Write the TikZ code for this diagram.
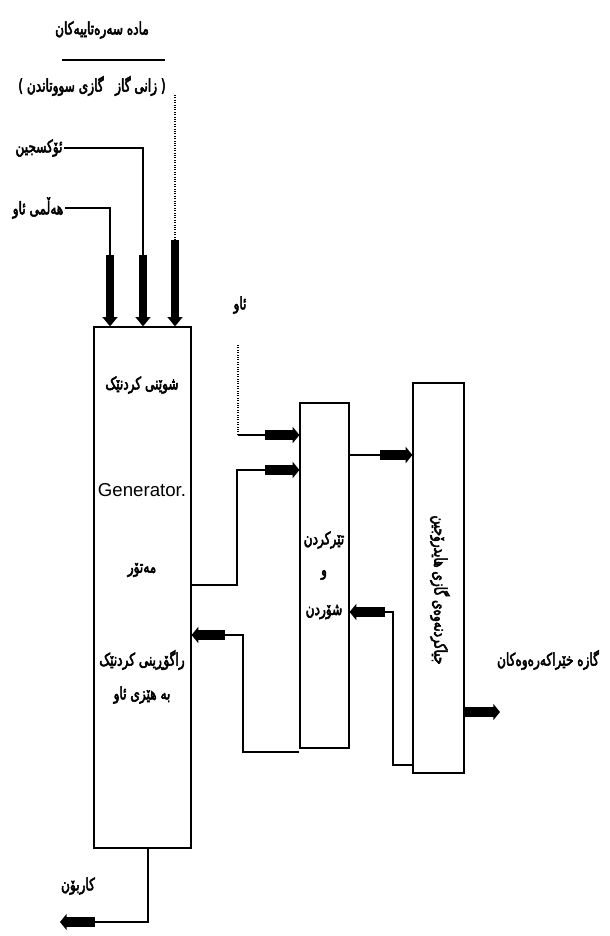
\documentclass[tikz,border=0pt]{standalone}
\usepackage{fontspec}
\setmainfont{Liberation Sans}
\newfontfamily\arabicfont[Script=Arabic,FakeBold=3,FakeStretch=0.7]{DejaVu Sans}
\TeXXeTstate=1
\usetikzlibrary{arrows.meta}
\newcommand{\ar}[1]{{\arabicfont\beginR #1\endR}}
\begin{document}
\begin{tikzpicture}[x=0.75pt,y=-0.75pt,
  box/.style={draw,line width=0.9pt,inner sep=0pt,anchor=center},
  lbl/.style={inner sep=1pt,font=\fontsize{13}{15}\selectfont},
  thin/.style={line width=0.9pt},
  dots/.style={line width=0.8pt,densely dotted},
  fatv/.style={line width=5.5pt,-{Triangle[length=7pt,width=11pt]}},
  fath/.style={line width=7pt,-{Triangle[length=5pt,width=12pt]}}]
\useasboundingbox (0,0) rectangle (610,936);
% boxes
\node[box,minimum width=72.75pt,minimum height=390.75pt] (gen) at (142.5,587.5) {};
\node[box,minimum width=36.75pt,minimum height=258.75pt] (mid) at (324.5,575.5) {};
\node[box,minimum width=38.25pt,minimum height=292.5pt] (rgt) at (438.5,578) {};
% texts
\node[lbl] (raw) at (102,30) {\ar{مادە سەرەتاییەکان}};
\node[lbl] (fuel) at (92,86) {\ar{( زانی گاز \ \ گازی سووتاندن )}};
\node[lbl] (oxy) at (39,148) {\ar{ئۆکسجین}};
\node[lbl] (steam) at (38,208) {\ar{هەڵمی ئاو}};
\node[lbl] (g1) at (142,385) {\ar{شوێنی کردنێک}};
\node[inner sep=0pt,font=\fontsize{14}{16}\selectfont] (g2) at (142,490) {Generator.};
\node[lbl] (g3) at (142,570) {\ar{مەتۆر}};
\node[lbl] (g4) at (142,660) {\ar{راگۆڕینی کردنێک}};
\node[lbl] (g5) at (142,695) {\ar{بە هێزی ئاو}};
\node[lbl] (water) at (240,305) {\ar{ئاو}};
\node[lbl] (m1) at (324,540) {\ar{تێرکردن}};
\node[lbl] (m2) at (324,575) {\ar{و}};
\node[lbl] (m3) at (324,612) {\ar{شۆردن}};
\node[lbl,rotate=-90] (r1) at (440,590) {\ar{جیاکردنەوەی گازی هایدرۆجین}};
\node[lbl] (out) at (548,660) {\ar{گازە خێراکەرەوەکان}};
\node[lbl] (carb) at (78,886) {\ar{کاربۆن}};
% underline of header
\coordinate (ul1) at (62,60);
\coordinate (ul2) at (165,60);
\draw[thin] (ul1) -- (ul2);
% inputs at top
\coordinate (a1) at (110,255);
\coordinate (a2) at (143,255);
\coordinate (a3) at (175,240);
\coordinate (d3) at (175,95);
\draw[thin] (steam.east) -| (a1);
\draw[thin] (oxy.east) -| (a2);
\draw[dots] (d3) -- (a3);
\draw[fatv] (a1) -- (a1 |- gen.north);
\draw[fatv] (a2) -- (a2 |- gen.north);
\draw[fatv] (a3) -- (a3 |- gen.north);
% water to middle box
\coordinate (w1) at (238,345);
\coordinate (w2) at (238,435);
\coordinate (w3) at (265,435);
\draw[dots] (w1) -- (w2);
\draw[thin] (w2) -- (w3);
\draw[fath] (w3) -- (mid.west |- w3);
% generator to middle box
\coordinate (b1) at (237,585);
\coordinate (b2) at (265,470);
\draw[thin] (gen.east |- b1) -- (b1) |- (b2);
\draw[fath] (b2) -- (mid.west |- b2);
% middle to right box
\coordinate (c1) at (380,455);
\draw[thin] (mid.east |- c1) -- (c1);
\draw[fath] (c1) -- (rgt.west |- c1);
% right box back to middle box
\coordinate (e1) at (393,765);
\coordinate (e2) at (385,612);
\draw[thin] (rgt.west |- e1) -- (e1) |- (e2);
\draw[fath] (e2) -- (mid.east |- e2);
% middle box back to generator
\coordinate (f1) at (243,752);
\coordinate (f2) at (225,635);
\draw[thin] (mid.west |- f1) -- (f1) |- (f2);
\draw[fath] (f2) -- (gen.east |- f2);
% output
\coordinate (o1) at (500,712);
\draw[fath] (rgt.east |- o1) -- (o1);
% carbon
\coordinate (k0) at (148,848);
\coordinate (k3) at (148,922);
\coordinate (k1) at (95,922);
\coordinate (k2) at (60,922);
\draw[thin] (k0) -- (k3) -- (k1);
\draw[fath] (k1) -- (k2);
\end{tikzpicture}
\end{document}
